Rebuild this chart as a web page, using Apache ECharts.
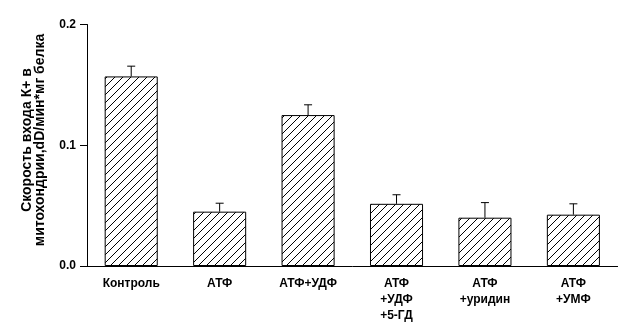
<!DOCTYPE html>
<html><head><meta charset="utf-8">
<script src="https://cdn.jsdelivr.net/npm/echarts@6/dist/echarts.min.js"></script>
<style>html,body{margin:0;padding:0;background:#fff}#c{width:624px;height:324px}</style>
</head><body><div id="c"></div>
<script>
var categories = ['Контроль', 'АТФ', 'АТФ+УДФ', 'АТФ\n+УДФ\n+5-ГД', 'АТФ\n+уридин', 'АТФ\n+УМФ'];
var values = [0.157, 0.045, 0.125, 0.0515, 0.040, 0.0425];
var errors = [0.0085, 0.007, 0.0085, 0.0075, 0.0125, 0.009];
var yTicks = [0, 0.1, 0.2];
var yTitle = 'Скорость входа К+ в\nмитохондрии,dD/мин*мг белка';

var FONT = '"Liberation Sans", Arial, sans-serif';
var TITLE_FONT = '"Liberation Sans Narrow", "Arial Narrow", "Liberation Sans", sans-serif';
function hatch() {
  var n = 8;
  var c = document.createElement('canvas');
  c.width = n; c.height = n;
  var g = c.getContext('2d');
  g.fillStyle = '#fff'; g.fillRect(0, 0, n, n);
  g.fillStyle = '#000';
  for (var i = 0; i < n; i++) { g.fillRect(i, n - 1 - i, 1, 1); }
  return c;
}
var chart = echarts.init(document.getElementById('c'), null, {renderer: 'canvas'});
chart.setOption({
  animation: false,
  backgroundColor: '#fff',
  grid: {left: 87, right: 6.4, top: 24.5, bottom: 56},
  xAxis: {
    type: 'category', data: categories,
    axisLine: {lineStyle: {color: '#000', width: 1}},
    axisTick: {show: false},
    axisLabel: {color: '#000', fontFamily: FONT, fontWeight: 'bold', fontSize: 12, lineHeight: 16, margin: 10, interval: 0}
  },
  yAxis: {
    type: 'value', min: 0, max: 0.2, interval: 0.1,
    axisLine: {show: true, lineStyle: {color: '#000', width: 1}},
    axisTick: {show: true, length: 7, lineStyle: {color: '#000', width: 1}},
    splitLine: {show: false},
    axisLabel: {color: '#000', fontFamily: FONT, fontWeight: 'bold', fontSize: 12, margin: 11,
      formatter: function (v) { return v.toFixed(1); }}
  },
  graphic: [{
    type: 'text', x: 34, y: 140, rotation: Math.PI / 2,
    style: {text: yTitle, fill: '#000', font: 'bold 14px ' + TITLE_FONT, textAlign: 'center', textVerticalAlign: 'middle', lineHeight: 13}
  }],
  series: [{
    type: 'bar', data: values, barWidth: '60%',
    itemStyle: {color: {image: hatch(), repeat: 'repeat'}, borderColor: '#000', borderWidth: 1}
  }, {
    type: 'custom',
    data: values.map(function (v, i) { return [i, v, v + errors[i]]; }),
    renderItem: function (params, api) {
      var p0 = api.coord([api.value(0), api.value(1)]);
      var p1 = api.coord([api.value(0), api.value(2)]);
      var style = {stroke: '#000', lineWidth: 1};
      return {type: 'group', children: [
        {type: 'line', shape: {x1: p0[0], y1: p0[1], x2: p1[0], y2: p1[1]}, style: style},
        {type: 'line', shape: {x1: p1[0] - 4, y1: p1[1], x2: p1[0] + 4, y2: p1[1]}, style: style}
      ]};
    },
    z: 3
  }]
});
</script></body></html>
